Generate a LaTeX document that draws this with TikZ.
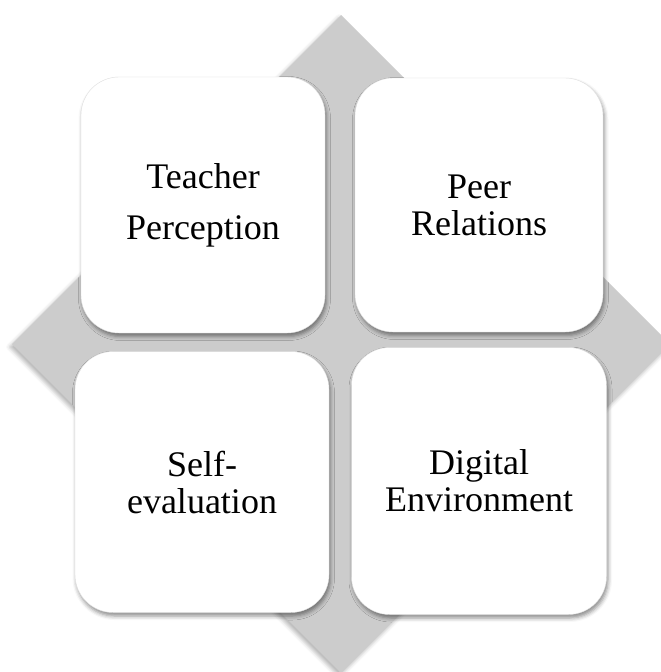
\documentclass[tikz,border=0pt]{standalone}
\usepackage{fontspec}
\setmainfont{Liberation Serif}
\usepackage{tikz}
\usetikzlibrary{shadows.blur}

\begin{document}
\begin{tikzpicture}[x=1pt, y=-1pt,
    tile/.style={fill=white, draw=gray!25, line width=0.4pt, rounded corners=38pt,
      align=center, inner sep=0pt, font=\fontsize{36}{37}\selectfont,
      blur shadow={shadow xshift=1.5pt, shadow yshift=-3.5pt, shadow blur radius=4pt, shadow opacity=45}}]
  \useasboundingbox (0,0) rectangle (661,672);
  % gray diamond behind the four tiles
  \fill [gray!40, blur shadow={shadow xshift=-2pt, shadow yshift=-3pt, shadow blur radius=4pt, shadow opacity=30}]
    (341,15) -- (670,344) -- (341,673) -- (12,344) -- cycle;
  \node (teacher) at (203,205) [tile, minimum width=244pt, minimum height=256pt] {Teacher\\[14pt]Perception};
  \node (peer) at (479,205) [tile, minimum width=248pt, minimum height=254pt] {Peer\\Relations};
  \node (self) at (202,482) [tile, minimum width=254pt, minimum height=261pt] {Self-\\evaluation};
  \node (digital) at (479,481) [tile, minimum width=255pt, minimum height=267pt] {Digital\\Environment};
\end{tikzpicture}
\end{document}
